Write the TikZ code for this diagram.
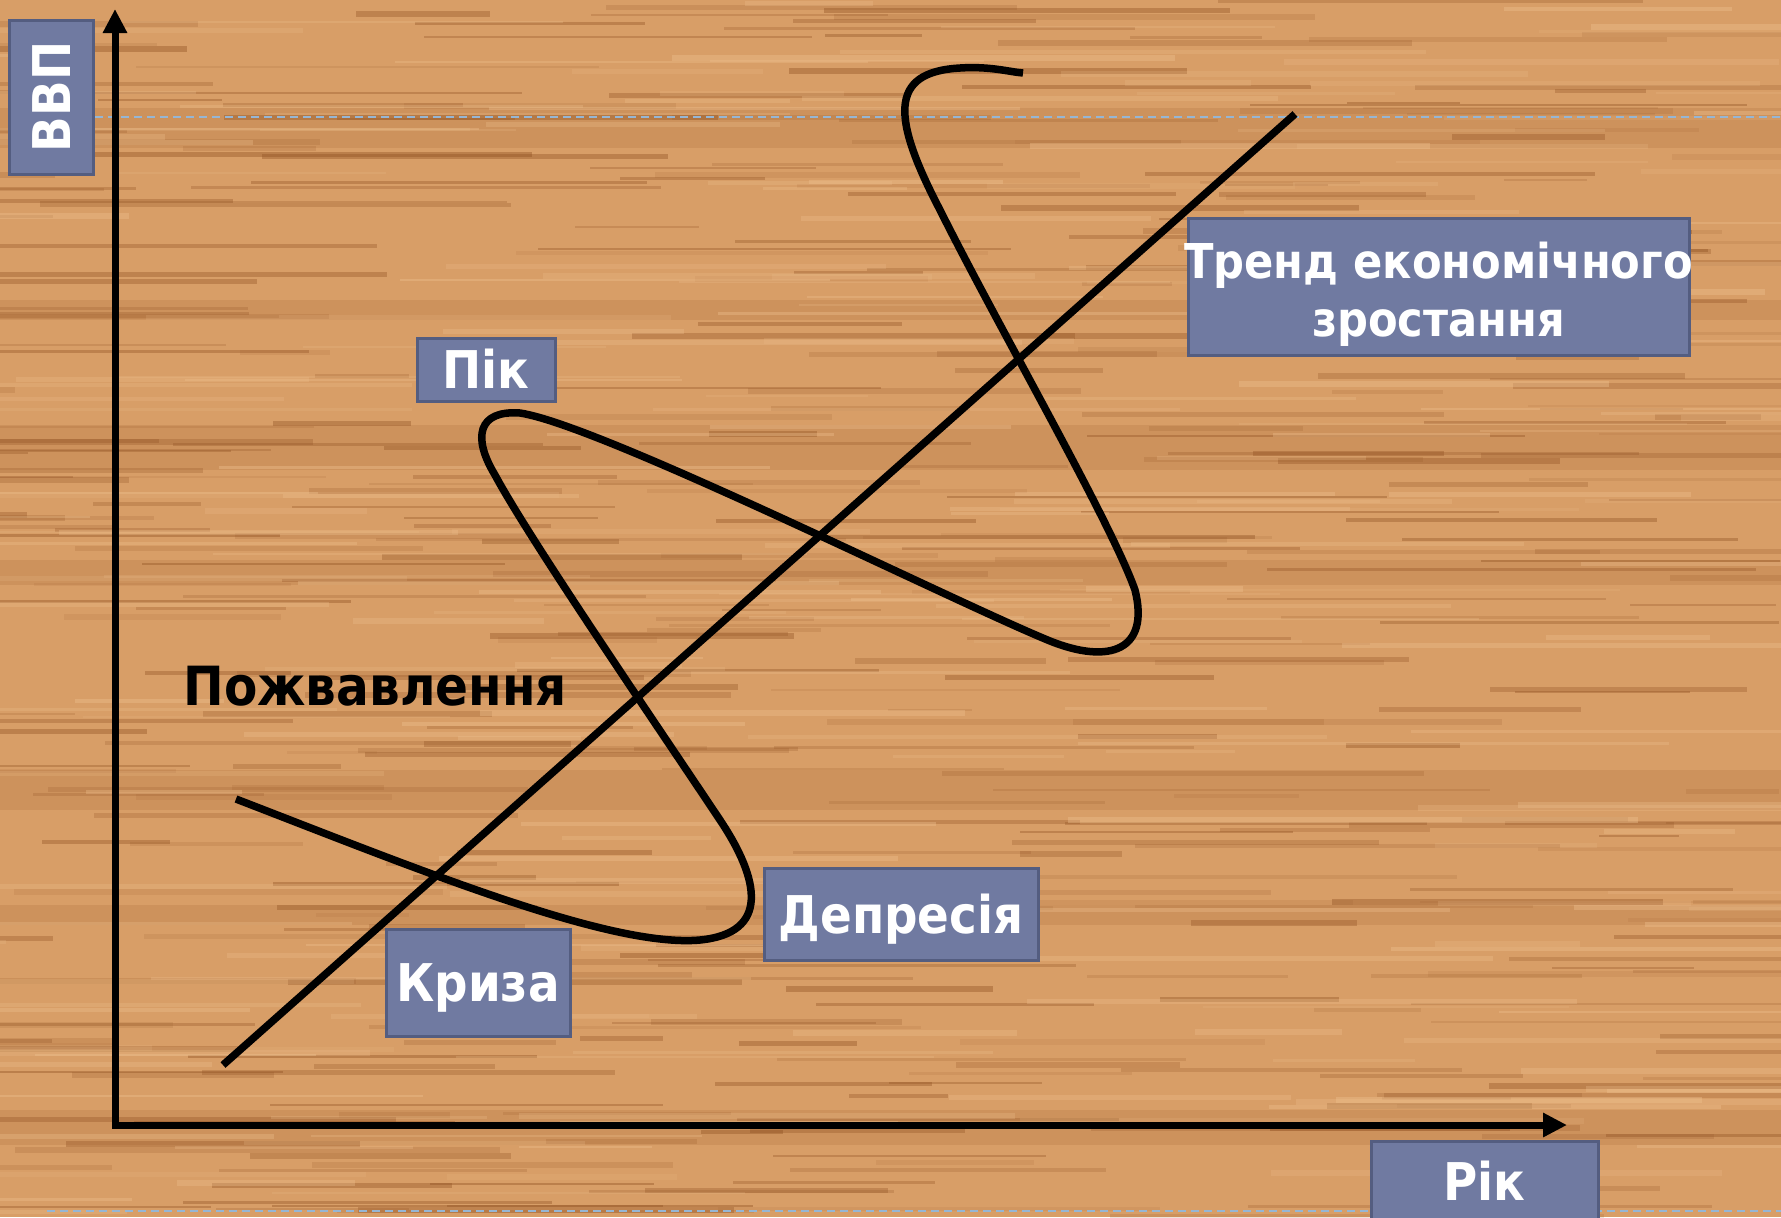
\documentclass[tikz,border=0pt]{standalone}
\usepackage{fontspec}
\newfontfamily\tagfont{DejaVu Sans Condensed}[BoldFont={DejaVu Sans Condensed Bold}]
\usepackage{xcolor}
\usepackage{tikz}
\usetikzlibrary{arrows.meta,positioning,calc}

\definecolor{woodbase}{RGB}{216,158,103}
\definecolor{woodgrain}{RGB}{145,82,35}
\definecolor{woodlight}{RGB}{238,192,142}
\definecolor{tagfill}{RGB}{112,122,161}
\definecolor{tagedge}{RGB}{84,93,128}
\definecolor{guideblue}{RGB}{150,182,212}

\begin{document}
\begin{tikzpicture}[x=0.5pt,y=-0.5pt,
    tagbox/.style={draw=tagedge, line width=1.5pt, fill=tagfill, text=white,
      font=\tagfont\bfseries\fontsize{26}{30}\selectfont, inner sep=0pt,
      text height=19pt, text depth=0pt},
    axis/.style={line width=3.5pt, {Triangle[length=12pt,width=11.5pt]}-{Triangle[length=12pt,width=11.5pt]}},
    curve/.style={line width=3.75pt},
    guide/.style={guideblue, line width=1pt, dash pattern=on 4pt off 2.5pt},
    grain/.style={woodgrain},
    sheen/.style={woodlight}]

  % Page and wood background
  \useasboundingbox (0,0) rectangle (1781,1217);
  \clip (0,0) rectangle (1781,1217);
  \fill[woodbase] (0,0) rectangle (1781,1217);
  \foreach \yb/\h in {108/40,300/20,425/45,560/25,770/40,905/20,1110/35}
    \fill[woodgrain, opacity=0.15] (0,\yb) rectangle (1781,\yb+\h);
  \pgfmathsetseed{4242}
  \foreach \i in {1,...,420} {
    \pgfmathsetmacro\yy{random(0,1217)}
    \pgfmathsetmacro\xa{random(-300,1700)}
    \pgfmathsetmacro\len{random(80,500)}
    \pgfmathsetmacro\op{random(10,40)/100}
    \pgfmathsetmacro\lw{random(2,6)/2}
    \draw[grain, opacity=\op, line width=\lw pt] (\xa,\yy) -- ++(\len,0);
  }
  \foreach \i in {1,...,220} {
    \pgfmathsetmacro\yy{random(0,1217)}
    \pgfmathsetmacro\xa{random(-300,1700)}
    \pgfmathsetmacro\len{random(120,600)}
    \pgfmathsetmacro\op{random(15,40)/100}
    \pgfmathsetmacro\lw{random(2,6)/2}
    \draw[sheen, opacity=\op, line width=\lw pt] (\xa,\yy) -- ++(\len,0);
  }

  % Guide lines
  \draw[guide] (95,117) -- (1781,117);
  \draw[guide] (47,1211) -- (1781,1211);

  % Axes
  \coordinate (origin) at (115,1125);
  \coordinate (ytip) at (115,9);
  \coordinate (xtip) at (1567,1125);
  \draw[axis] (ytip) -- (origin) -- (xtip);

  % Growth trend
  \coordinate (trendlow) at (223,1065);
  \coordinate (trendhigh) at (1295,114);
  \draw[curve] (trendlow) -- (trendhigh);

  % Business cycle
  \coordinate (cyclestart) at (236,799);
  \coordinate (cycleend) at (1023,73);
  \draw[curve] (cyclestart)
    .. controls (420,870) and (610,948) .. (700,940)
    .. controls (770,933) and (760,880) .. (720,820)
    .. controls (650,715) and (530,540) .. (495,475)
    .. controls (472,437) and (478,410) .. (520,413)
    .. controls (600,425) and (950,600) .. (1050,641)
    .. controls (1110,665) and (1150,650) .. (1135,590)
    .. controls (1110,520) and (1000,330) .. (940,210)
    .. controls (892,118) and (888,72) .. (960,68)
    .. controls (990,66) and (1010,72) .. (cycleend);

  % Labels
  \node[tagbox, rotate=90, minimum width=77pt, minimum height=42pt] (vvp) at (51,97) {ВВП};
  \node[tagbox, minimum width=69pt, minimum height=31.5pt] (pik) at (486,369.5) {Пік};
  \node[tagbox, minimum width=92pt, minimum height=53.5pt] (kryza) at (478,982.5) {Криза};
  \node[tagbox, minimum width=137pt, minimum height=46pt] (depresia) at (901,914) {Депресія};
  \node[tagbox, minimum width=113.5pt, minimum height=40pt] (rik) at (1484.5,1181) {Рік};
  \node[tagbox, text height=, text depth=, align=center,
    font=\tagfont\bfseries\fontsize{24}{29}\selectfont,
    minimum width=250.5pt, minimum height=68.5pt] (trend) at (1438.5,286.5)
    {\rule{0pt}{26pt}\makebox[0pt]{Тренд економічного}\\\makebox[0pt]{зростання}};
  \node[anchor=base west, font=\tagfont\bfseries\fontsize{27}{30}\selectfont,
    inner sep=0pt] (revival) at (183,705) {Пожвавлення};

\end{tikzpicture}
\end{document}
